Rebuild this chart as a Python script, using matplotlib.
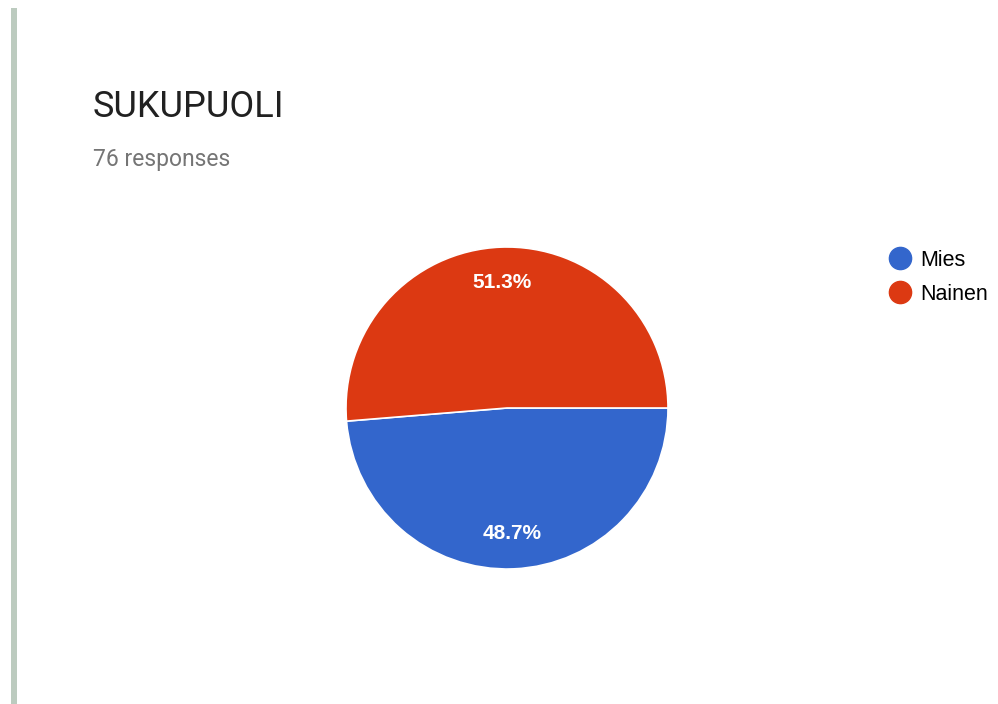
import matplotlib.pyplot as plt
from matplotlib.lines import Line2D
from matplotlib.patches import Rectangle

# data
labels = ["Mies", "Nainen"]
shares = [48.7, 51.3]
colors = ["#3366cc", "#dc3912"]

title = "SUKUPUOLI"
subtitle = "76 responses"

W, H = 998, 704
fig = plt.figure(figsize=(W / 100, H / 100), dpi=100)
fig.patch.set_facecolor("white")

# vertical bar on the left
fig.add_artist(Rectangle((11 / W, 0), 6 / W, (H - 8) / H,
                         transform=fig.transFigure, color="#bccbbf", lw=0))

fig.text(93 / W, 1 - 117 / H, title, fontsize=26, family="Roboto", color="#212121")
fig.text(93 / W, 1 - 166 / H, subtitle, fontsize=16.5, family="Roboto", color="#757575")

# pie axes: center (507, 408), radius 161 px
cx, cy, r = 507, 408, 161
ax = fig.add_axes([(cx - r) / W, 1 - (cy + r) / H, 2 * r / W, 2 * r / H])
wedges, texts, autotexts = ax.pie(
    shares, colors=colors, startangle=0, counterclock=False,
    autopct="%.1f%%", pctdistance=0.78,
    wedgeprops=dict(edgecolor="white", linewidth=1.2),
    textprops=dict(color="white", fontsize=15, fontweight="bold", family="Liberation Sans"),
)
ax.set_xlim(-1, 1)
ax.set_ylim(-1, 1)
ax.set_aspect("equal")

handles = [Line2D([], [], marker="o", linestyle="", markersize=16,
                  markerfacecolor=c, markeredgecolor=c) for c in colors]
fig.legend(handles, labels, loc="upper left", bbox_to_anchor=(884 / W, 1 - 250 / H),
           frameon=False, prop=dict(family="Liberation Sans", size=15.5),
           handletextpad=0.19, labelspacing=0.6, borderpad=0, borderaxespad=0,
           handlelength=1.5)

fig.savefig("out.png", dpi=100)
